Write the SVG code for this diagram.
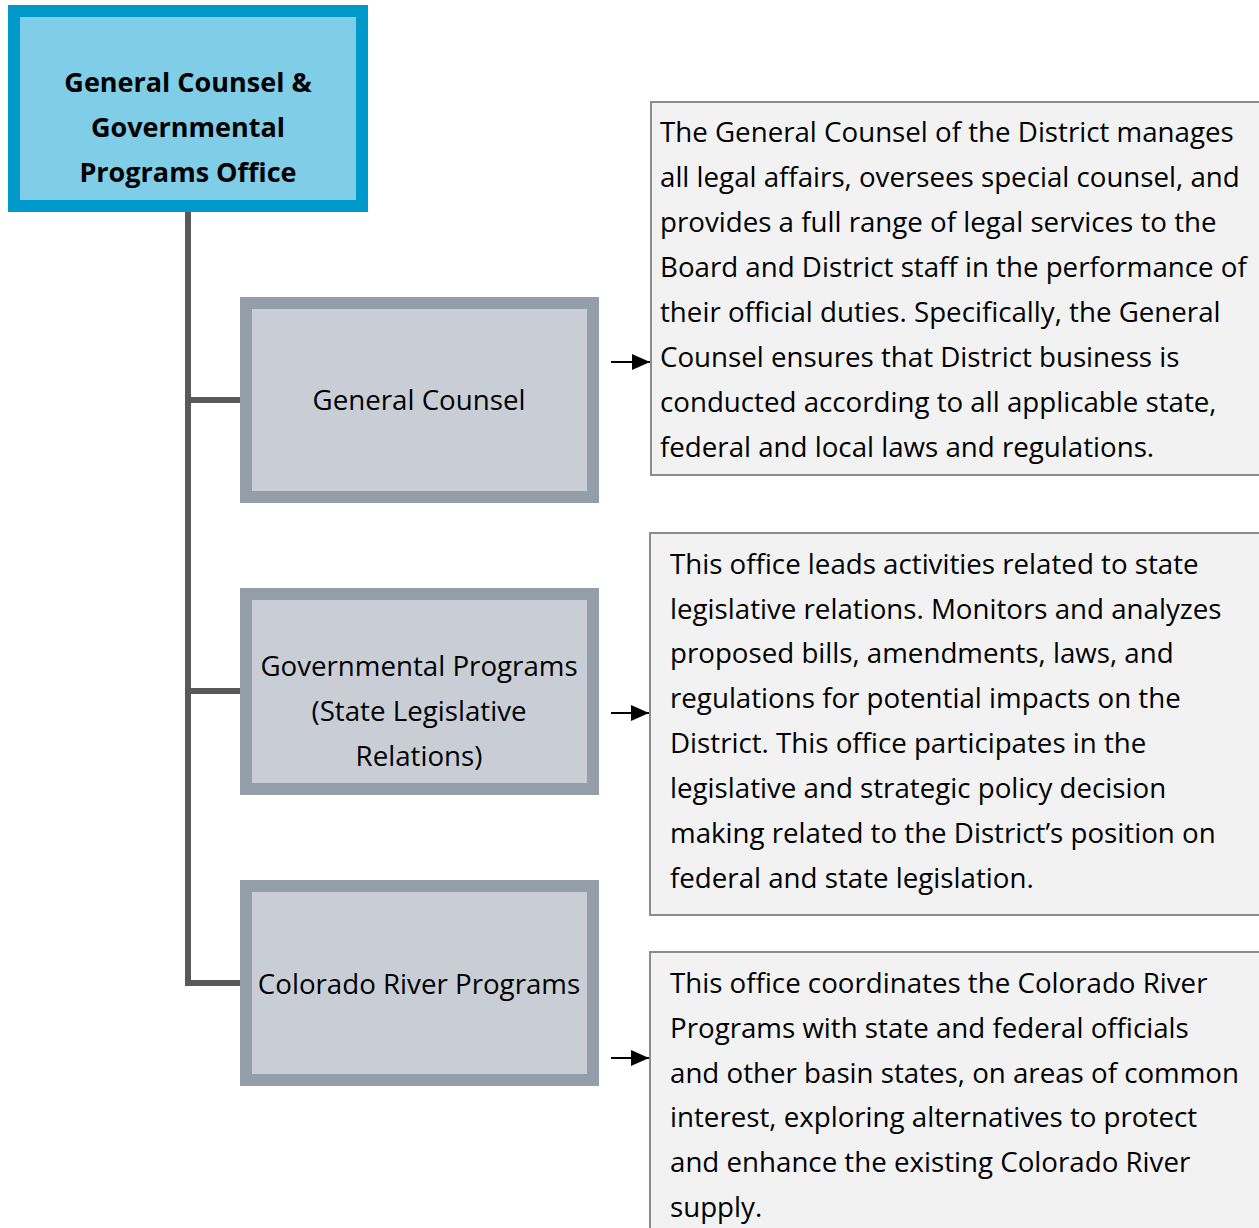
<svg xmlns="http://www.w3.org/2000/svg" width="1259" height="1228" viewBox="0 0 1259 1228">
  <defs>
    <marker id="arrowhead" markerWidth="9" markerHeight="8" refX="9" refY="4" orient="auto" markerUnits="strokeWidth">
      <path d="M0,0 L9,4 L0,8 Z" fill="#000000"/>
    </marker>
    <style>
      .head-box { fill: #7fcde6; stroke: #0099cc; stroke-width: 12; }
      .unit-box { fill: #c9ced6; stroke: #939ea9; stroke-width: 12; }
      .desc-box { fill: #f2f2f2; stroke: #8c8c8c; stroke-width: 2; }
      .trunk { stroke: #595959; stroke-width: 6; fill: none; }
      .pointer { stroke: #000000; stroke-width: 2; fill: none; }
      text { font-family: "Open Sans", "Noto Sans", sans-serif; fill: #000000; }
      .head-label { font-size: 27px; font-weight: bold; text-anchor: middle; }
      .unit-label { font-size: 27.7px; text-anchor: middle; }
      .desc-text { font-size: 27.7px; }
    </style>
  </defs>

  <rect width="1259" height="1228" fill="#ffffff"/>

  <!-- tree connectors from the head office to its units, and pointers to descriptions -->
  <g id="connectors">
    <path class="trunk" d="M188,212 V983 H240"/>
    <path class="trunk" d="M188,400 H240"/>
    <path class="trunk" d="M188,691 H240"/>
    <line class="pointer" x1="611" y1="362" x2="650" y2="362" marker-end="url(#arrowhead)"/>
    <line class="pointer" x1="611" y1="713" x2="649" y2="713" marker-end="url(#arrowhead)"/>
    <line class="pointer" x1="611" y1="1058" x2="649" y2="1058" marker-end="url(#arrowhead)"/>
  </g>

  <g id="node-head-office">
    <rect class="head-box" x="14" y="11" width="348" height="195"/>
    <text class="head-label" x="188" y="92">General Counsel &amp;</text>
    <text class="head-label" x="188" y="137">Governmental</text>
    <text class="head-label" x="188" y="182">Programs Office</text>
  </g>

  <g id="node-general-counsel">
    <rect class="unit-box" x="246" y="303" width="347" height="194"/>
    <text class="unit-label" x="419" y="410">General Counsel</text>
  </g>

  <g id="node-governmental-programs">
    <rect class="unit-box" x="246" y="594" width="347" height="195"/>
    <text class="unit-label" x="419" y="676">Governmental Programs</text>
    <text class="unit-label" x="419" y="721">(State Legislative</text>
    <text class="unit-label" x="419" y="766">Relations)</text>
  </g>

  <g id="node-colorado-river">
    <rect class="unit-box" x="246" y="886" width="347" height="194"/>
    <text class="unit-label" x="419" y="994">Colorado River Programs</text>
  </g>

  <g id="desc-general-counsel">
    <rect class="desc-box" x="651" y="102" width="620" height="373"/>
    <text class="desc-text" x="660" y="142">The General Counsel of the District manages</text>
    <text class="desc-text" x="660" y="187">all legal affairs, oversees special counsel, and</text>
    <text class="desc-text" x="660" y="232">provides a full range of legal services to the</text>
    <text class="desc-text" x="660" y="277">Board and District staff in the performance of</text>
    <text class="desc-text" x="660" y="322">their official duties. Specifically, the General</text>
    <text class="desc-text" x="660" y="367">Counsel ensures that District business is</text>
    <text class="desc-text" x="660" y="412">conducted according to all applicable state,</text>
    <text class="desc-text" x="660" y="457">federal and local laws and regulations.</text>
  </g>

  <g id="desc-governmental-programs">
    <rect class="desc-box" x="650" y="533" width="620" height="382"/>
    <text class="desc-text" x="670" y="574">This office leads activities related to state</text>
    <text class="desc-text" x="670" y="619">legislative relations. Monitors and analyzes</text>
    <text class="desc-text" x="670" y="663">proposed bills, amendments, laws, and</text>
    <text class="desc-text" x="670" y="708">regulations for potential impacts on the</text>
    <text class="desc-text" x="670" y="753">District. This office participates in the</text>
    <text class="desc-text" x="670" y="798">legislative and strategic policy decision</text>
    <text class="desc-text" x="670" y="843">making related to the District’s position on</text>
    <text class="desc-text" x="670" y="888">federal and state legislation.</text>
  </g>

  <g id="desc-colorado-river">
    <rect class="desc-box" x="650" y="952" width="620" height="300"/>
    <text class="desc-text" x="670" y="993">This office coordinates the Colorado River</text>
    <text class="desc-text" x="670" y="1038">Programs with state and federal officials</text>
    <text class="desc-text" x="670" y="1083">and other basin states, on areas of common</text>
    <text class="desc-text" x="670" y="1127">interest, exploring alternatives to protect</text>
    <text class="desc-text" x="670" y="1172">and enhance the existing Colorado River</text>
    <text class="desc-text" x="670" y="1217">supply.</text>
  </g>
</svg>
